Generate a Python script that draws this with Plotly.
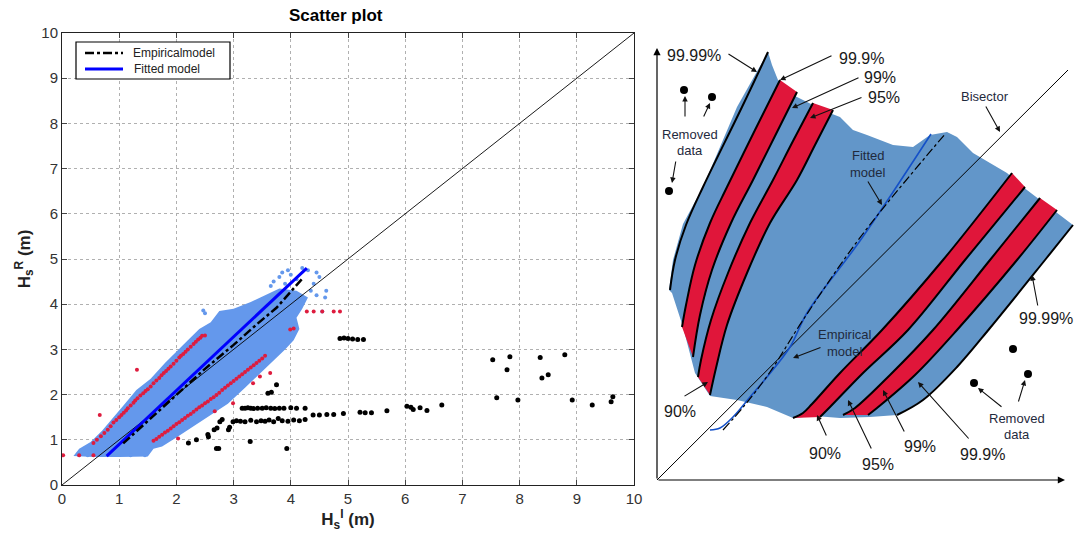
import plotly.graph_objects as go

# ---------------- Left panel: scatter plot data (H_s^I, H_s^R in m) ----------------
tick_vals = list(range(0, 11))
bis_x = [0, 10]
bis_y = [0, 10]

fit_x = [0.78, 4.28]
fit_y = [0.64, 4.80]

emp_x = [1.07, 1.5, 1.83, 2.2, 2.5, 3.0, 3.4, 3.75, 4.04, 4.19]
emp_y = [0.92, 1.42, 1.81, 2.22, 2.57, 3.10, 3.55, 3.92, 4.35, 4.55]

# outline of the dense blue cloud
cloud_x = [0.2, 0.55, 1.0, 1.5, 1.6, 1.75, 2.0, 2.3, 2.6, 2.9, 3.2, 3.45, 3.7, 3.9, 4.05, 4.15,
           4.1, 4.2, 4.3, 4.1, 3.8, 3.55, 3.3, 3.0, 2.75, 2.6, 2.4, 2.2, 2.0, 1.8, 1.55, 1.3,
           1.1, 0.9, 0.7, 0.5, 0.3]
cloud_y = [0.64, 0.62, 0.62, 0.63, 0.8, 0.85, 1.05, 1.3, 1.55, 1.8, 2.15, 2.45, 2.75, 3.0, 3.2, 3.45,
           3.7, 3.9, 4.15, 4.3, 4.35, 4.2, 4.05, 3.9, 3.85, 3.6, 3.45, 3.2, 2.95, 2.7, 2.35, 2.1,
           1.8, 1.5, 1.2, 0.95, 0.8]

# sparse blue points outside the dense cloud
sparse_x = [3.7, 3.8, 3.85, 3.95, 4.0, 4.1, 4.2, 4.3, 4.45, 4.5, 4.4, 4.35, 4.45, 3.9, 3.65,
            2.5, 2.47, 4.55, 4.6, 4.62, 0.3, 0.45, 1.2, 1.45]
sparse_y = [4.5, 4.6, 4.7, 4.75, 4.65, 4.55, 4.8, 4.75, 4.7, 4.6, 4.45, 4.3, 4.2, 4.45, 4.4,
            3.8, 3.86, 3.84, 4.15, 4.3, 0.66, 0.66, 0.66, 0.66]

# red points: upper edge of the band
red_up_x = [0.55, 0.61, 0.68, 0.74, 0.8, 0.85, 0.9, 0.95, 1.0, 1.04, 1.08, 1.12, 1.15, 1.2, 1.25,
            1.28, 1.32, 1.37, 1.42, 1.46, 1.5, 1.55, 1.6, 1.65, 1.7, 1.74, 1.78, 1.82, 1.86, 1.9,
            1.95, 2.0, 2.05, 2.08, 2.12, 2.16, 2.2, 2.25, 2.3, 2.34, 2.38, 2.42, 2.45,
            0.66, 1.31, 0.02, 0.3, 0.55, 2.5]
red_up_y = [0.93, 1.0, 1.08, 1.15, 1.22, 1.3, 1.38, 1.44, 1.5, 1.55, 1.6, 1.65, 1.7, 1.76, 1.82,
            1.87, 1.92, 1.98, 2.03, 2.08, 2.12, 2.18, 2.25, 2.31, 2.37, 2.43, 2.48, 2.52, 2.57, 2.62,
            2.68, 2.75, 2.82, 2.86, 2.9, 2.95, 3.0, 3.06, 3.12, 3.17, 3.22, 3.26, 3.3,
            1.55, 2.55, 0.66, 0.66, 0.66, 3.31]
# red points: lower edge of the band and strays
red_lo_x = [1.6, 1.65, 1.7, 1.75, 1.8, 1.85, 1.9, 1.95, 2.0, 2.05, 2.1, 2.15, 2.2, 2.25, 2.3, 2.35,
            2.4, 2.45, 2.5, 2.55, 2.6, 2.65, 2.7, 2.75, 2.8, 2.85, 2.9, 2.95, 3.0, 3.05, 3.1, 3.15,
            3.2, 3.25, 3.3, 3.35, 3.4, 3.45, 3.5, 3.55,
            2.03, 2.67, 2.99, 3.34, 3.46, 3.64, 3.99, 4.05, 4.28, 4.4, 4.55, 4.75, 4.86]
red_lo_y = [0.98, 1.02, 1.07, 1.11, 1.16, 1.2, 1.25, 1.3, 1.35, 1.39, 1.44, 1.48, 1.53, 1.57, 1.62,
            1.67, 1.72, 1.76, 1.81, 1.85, 1.9, 1.94, 1.99, 2.04, 2.1, 2.15, 2.2, 2.25, 2.3, 2.35,
            2.4, 2.45, 2.5, 2.55, 2.6, 2.65, 2.7, 2.75, 2.8, 2.86,
            1.03, 1.63, 1.81, 2.25, 2.40, 2.48, 3.44, 3.46, 3.84, 3.84, 3.84, 3.84, 3.84]

# removed (black) points
blk_x = [4.86, 4.93, 5.0, 5.08, 5.17, 5.27,
         3.75, 3.6, 3.66,
         3.15, 3.2, 3.25, 3.3, 3.35, 3.42, 3.5, 3.57, 3.65, 3.72, 3.8, 3.88, 4.0, 4.1, 4.25,
         2.99, 3.05, 3.12, 3.2, 3.3, 3.4, 3.48, 3.55, 3.62, 3.7, 3.78, 3.85, 3.95, 4.05, 4.15, 4.25,
         4.39, 4.5, 4.63, 4.75, 4.92, 5.21, 5.3, 5.41, 5.68, 6.03, 6.1, 6.14, 6.26, 6.38, 6.64,
         2.76, 2.8, 2.71, 2.66, 2.56, 2.55, 2.35, 2.21, 2.70, 2.74, 3.29, 3.93, 2.91, 2.93,
         7.53, 7.83, 7.78, 8.36, 8.39, 8.5, 8.79, 7.6, 7.97, 8.92, 9.27, 9.6, 9.63]
blk_y = [3.24, 3.25, 3.24, 3.23, 3.22, 3.22,
         2.22, 2.03, 2.05,
         1.70, 1.70, 1.71, 1.70, 1.69, 1.70, 1.70, 1.71, 1.70, 1.69, 1.70, 1.70, 1.71, 1.70, 1.70,
         1.40, 1.42, 1.41, 1.40, 1.43, 1.40, 1.42, 1.41, 1.44, 1.40, 1.47, 1.42, 1.41, 1.44, 1.42, 1.45,
         1.55, 1.55, 1.56, 1.56, 1.58, 1.61, 1.60, 1.60, 1.64, 1.74, 1.72, 1.67, 1.71, 1.65, 1.77,
         1.40, 1.45, 1.26, 1.22, 1.07, 1.12, 1.00, 0.93, 0.81, 0.81, 0.96, 0.81, 1.22, 1.28,
         2.77, 2.84, 2.55, 2.82, 2.37, 2.44, 2.88, 1.93, 1.88, 1.88, 1.77, 1.84, 1.95]

legend_labels = ["Empiricalmodel", "Fitted model"]

# ---------------- Right panel: schematic (arbitrary units) ----------------
region_u = [111, 115, 121, 130, 140, 156, 170, 183, 196, 210, 236, 256, 273, 290, 300, 316, 333,
            350, 366, 383, 400, 416, 388, 333, 300, 266, 240, 213, 183, 158, 136, 110, 80, 53,
            38, 26, 15, 12, 16, 26, 46, 80]
region_v = [428, 415, 400, 388, 383, 375, 368, 363, 350, 345, 335, 333, 345, 348, 343, 327, 317,
            307, 293, 280, 267, 255, 220, 152, 113, 80, 65, 63, 62, 64, 62, 73, 80, 84,
            107, 153, 187, 190, 220, 256, 293, 373]

L1_u = [111, 85, 46, 29, 18, 13]
L1_v = [428, 373, 293, 255, 220, 190]
L2_u = [123, 98, 70, 53, 38, 29, 25]
L2_v = [400, 350, 293, 257, 215, 175, 153]
L3_u = [140, 118, 96, 74, 55, 43, 36]
L3_v = [388, 344, 300, 257, 210, 165, 123]
L4_u = [156, 136, 116, 93, 71, 54, 44, 41]
L4_v = [377, 339, 300, 257, 207, 160, 120, 103]
L5_u = [176, 158, 140, 113, 90, 70, 59, 53]
L5_v = [370, 335, 300, 257, 207, 155, 112, 85]

M5_u = [355, 286, 225, 183, 155, 146, 136]
M5_v = [307, 220, 150, 107, 76, 67, 62]
M4_u = [368, 308, 251, 206, 173, 163]
M4_v = [293, 220, 150, 107, 73, 63]
M3_u = [383, 333, 276, 233, 198, 186]
M3_v = [282, 220, 150, 105, 72, 65]
M2_u = [400, 360, 300, 258, 220, 211]
M2_v = [270, 220, 150, 105, 72, 65]
M1_u = [416, 388, 333, 300, 266, 240]
M1_v = [255, 220, 152, 113, 80, 65]

sbis_u = [0, 411]
sbis_v = [0, 410]

sfit_u = [53, 63, 76, 93, 110, 133, 150, 205, 274]
sfit_v = [50, 52, 63, 83, 103, 133, 167, 242, 346]
semp_u = [66, 88, 113, 146, 205, 289]
semp_v = [50, 75, 108, 160, 245, 347]

dots_u = [27, 55, 12, 356, 371, 317]
dots_v = [390, 383, 289, 131, 106, 97]

label_text = ["99.99%", "99.9%", "99%", "95%", "90%", "99.99%", "90%", "95%", "99%", "99.9%"]
label_u = [37, 204, 223, 227, 23, 389, 168, 221, 263, 325]
label_v = [425, 422, 403, 383, 69, 162, 27, 16, 34, 26]

word_text = ["Bisector", "Removed", "data", "Fitted", "model", "Empirical", "model", "Removed", "data"]
word_u = [328, 33, 33, 211, 211, 188, 188, 360, 360]
word_v = [384, 346, 330, 325, 308, 146, 129, 62, 46]

# arrows: tail (from label) -> head (target)
arr_tail_u = [70, 176, 203, 206, 328, 28, 46, 19, 210, 165, 26, 381, 346, 361, 170, 215, 248, 313]
arr_tail_v = [427, 425, 403, 383, 375, 362, 362, 320, 300, 133, 83, 173, 72, 77, 43, 30, 47, 40]
arr_head_u = [100, 123, 135, 153, 343, 28, 53, 15, 225, 136, 51, 375, 321, 368, 160, 191, 226, 261]
arr_head_v = [408, 400, 372, 362, 348, 384, 377, 297, 275, 122, 98, 205, 92, 100, 65, 80, 90, 98]

axis_len_u = 408
axis_len_v = 432

BLUE_FILL = "rgb(98,150,201)"
RED_FILL = "rgb(224,22,58)"
PT_BLUE = "rgb(100,152,236)"
PT_RED = "rgb(222,28,62)"
FONT = "Liberation Sans, Arial, sans-serif"
W, H = 1076, 541

fig = go.Figure()

# ---- left panel traces ----
fig.add_trace(go.Scatter(x=cloud_x, y=cloud_y, fill="toself", fillcolor=PT_BLUE, mode="lines",
                         line=dict(width=0, color=PT_BLUE), showlegend=False, hoverinfo="skip"))
fig.add_trace(go.Scatter(x=sparse_x, y=sparse_y, mode="markers",
                         marker=dict(size=4, color=PT_BLUE), showlegend=False))
fig.add_trace(go.Scatter(x=red_up_x + red_lo_x, y=red_up_y + red_lo_y, mode="markers",
                         marker=dict(size=4, color=PT_RED), showlegend=False))
fig.add_trace(go.Scatter(x=blk_x, y=blk_y, mode="markers",
                         marker=dict(size=5, color="black"), showlegend=False))
fig.add_trace(go.Scatter(x=bis_x, y=bis_y, mode="lines", line=dict(color="black", width=0.9),
                         showlegend=False))
fig.add_trace(go.Scatter(x=fit_x, y=fit_y, mode="lines", name=legend_labels[1],
                         line=dict(color="rgb(0,0,255)", width=3), showlegend=False))
fig.add_trace(go.Scatter(x=emp_x, y=emp_y, mode="lines", name=legend_labels[0],
                         line=dict(color="black", width=2.5, dash="dashdot"), showlegend=False))

# ---- right panel traces ----
def poly(u, v, color):
    fig.add_trace(go.Scatter(x=u, y=v, xaxis="x2", yaxis="y2", fill="toself", fillcolor=color,
                             mode="lines", line=dict(width=0, color=color), showlegend=False,
                             hoverinfo="skip"))

poly(region_u, region_v, BLUE_FILL)
poly(L2_u + L3_u[::-1], L2_v + L3_v[::-1], RED_FILL)
poly(L4_u + L5_u[::-1], L4_v + L5_v[::-1], RED_FILL)
poly(M5_u + M4_u[::-1], M5_v + M4_v[::-1], RED_FILL)
poly(M3_u + M2_u[::-1], M3_v + M2_v[::-1], RED_FILL)

for cu, cv in [(L1_u, L1_v), (L2_u, L2_v), (L3_u, L3_v), (L4_u, L4_v), (L5_u, L5_v),
               (M1_u, M1_v), (M2_u, M2_v), (M3_u, M3_v), (M4_u, M4_v), (M5_u, M5_v)]:
    fig.add_trace(go.Scatter(x=cu, y=cv, xaxis="x2", yaxis="y2", mode="lines",
                             line=dict(color="black", width=2, shape="spline", smoothing=1.0),
                             showlegend=False))

fig.add_trace(go.Scatter(x=sbis_u, y=sbis_v, xaxis="x2", yaxis="y2", mode="lines",
                         line=dict(color="black", width=1), showlegend=False))
fig.add_trace(go.Scatter(x=sfit_u, y=sfit_v, xaxis="x2", yaxis="y2", mode="lines",
                         line=dict(color="rgb(20,80,200)", width=1.6, shape="spline"), showlegend=False))
fig.add_trace(go.Scatter(x=semp_u, y=semp_v, xaxis="x2", yaxis="y2", mode="lines",
                         line=dict(color="black", width=1.2, dash="dashdot", shape="spline"),
                         showlegend=False))
fig.add_trace(go.Scatter(x=dots_u, y=dots_v, xaxis="x2", yaxis="y2", mode="markers",
                         marker=dict(size=8, color="black"), showlegend=False))

annotations = []
shapes = []
# schematic axes
for hu, hv in [(0, axis_len_v), (axis_len_u, 0)]:
    annotations.append(dict(x=hu, y=hv, ax=0, ay=0, xref="x2", yref="y2", axref="x2", ayref="y2",
                            showarrow=True, arrowhead=2, arrowsize=1.2, arrowwidth=1.2,
                            arrowcolor="black", text=""))
for tu, tv, hu, hv in zip(arr_tail_u, arr_tail_v, arr_head_u, arr_head_v):
    annotations.append(dict(x=hu, y=hv, ax=tu, ay=tv, xref="x2", yref="y2", axref="x2", ayref="y2",
                            showarrow=True, arrowhead=2, arrowsize=1, arrowwidth=1.1,
                            arrowcolor="#111", text=""))
for t, u, v in zip(label_text, label_u, label_v):
    annotations.append(dict(x=u, y=v, xref="x2", yref="y2", text=t, showarrow=False,
                            xanchor="center", yanchor="middle",
                            font=dict(family=FONT, size=16, color="#1a1a1a")))
for t, u, v in zip(word_text, word_u, word_v):
    annotations.append(dict(x=u, y=v, xref="x2", yref="y2", text=t, showarrow=False,
                            xanchor="center", yanchor="middle",
                            font=dict(family=FONT, size=13, color="#1f2a3d")))
# title of left panel
annotations.append(dict(x=336 / W, y=1 - 15 / H, xref="paper", yref="paper",
                        xanchor="center", yanchor="middle",
                        text="<b>Scatter plot</b>", showarrow=False,
                        font=dict(family=FONT, size=17, color="black")))

# legend box for the left panel (drawn as a framed key)
shapes.append(dict(type="rect", xref="paper", yref="paper", x0=76 / W, x1=230 / W,
                   y0=1 - 79 / H, y1=1 - 42 / H, line=dict(color="black", width=1.2),
                   fillcolor="white", layer="above"))
shapes.append(dict(type="line", xref="paper", yref="paper", x0=85 / W, x1=123 / W,
                   y0=1 - 53 / H, y1=1 - 53 / H, line=dict(color="black", width=2.5, dash="dashdot"),
                   layer="above"))
shapes.append(dict(type="line", xref="paper", yref="paper", x0=85 / W, x1=123 / W,
                   y0=1 - 69 / H, y1=1 - 69 / H, line=dict(color="rgb(0,0,255)", width=3),
                   layer="above"))
annotations.append(dict(x=131 / W, y=1 - 53 / H, xref="paper", yref="paper", xanchor="left",
                        yanchor="middle", text=legend_labels[0], showarrow=False,
                        font=dict(family=FONT, size=12, color="#222")))
annotations.append(dict(x=132 / W, y=1 - 69 / H, xref="paper", yref="paper", xanchor="left",
                        yanchor="middle", text=legend_labels[1], showarrow=False,
                        font=dict(family=FONT, size=12, color="#222")))

axis_common = dict(range=[0, 10], tickvals=tick_vals, showgrid=True, gridcolor="#b0b0b0",
                   griddash="dot", gridwidth=1, showline=True, linecolor="#222", linewidth=1,
                   mirror="ticks", ticks="inside", ticklen=5, tickcolor="#444", zeroline=False,
                   automargin=False, tickfont=dict(family=FONT, size=15, color="#333"))

fig.update_layout(
    width=W, height=H, margin=dict(l=0, r=0, t=0, b=0, autoexpand=False),
    paper_bgcolor="white", plot_bgcolor="white",
    xaxis=dict(domain=[62 / W, 634 / W], **axis_common,
               title=dict(text="<b>H<sub>s</sub><sup>I</sup> (m)</b>",
                          font=dict(family=FONT, size=17, color="#222"), standoff=6)),
    yaxis=dict(domain=[1 - 485 / H, 1 - 33 / H], **axis_common,
               title=dict(text="<b>H<sub>s</sub><sup>R</sup> (m)</b>",
                          font=dict(family=FONT, size=17, color="#222"), standoff=6)),
    xaxis2=dict(domain=[640 / W, 1], range=[-17, 419], visible=False, anchor="y2", automargin=False),
    yaxis2=dict(domain=[0, 1], range=[-61, 480], visible=False, anchor="x2", automargin=False),
    annotations=annotations,
    shapes=shapes,
    showlegend=False,
)

fig.write_html("out.html")
